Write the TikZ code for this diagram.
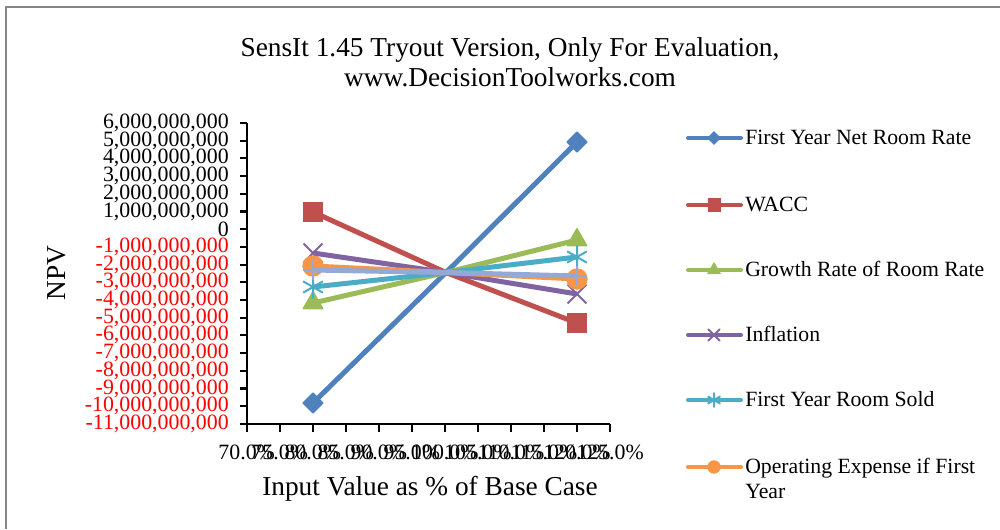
\documentclass[tikz,border=0pt]{standalone}
\usepackage{fontspec}
\setmainfont{Liberation Serif}
\usetikzlibrary{plotmarks}
\definecolor{srblue}{HTML}{4F81BD}
\definecolor{srred}{HTML}{C0504D}
\definecolor{srgreen}{HTML}{9BBB59}
\definecolor{srpurple}{HTML}{8064A2}
\definecolor{srteal}{HTML}{4BACC6}
\definecolor{srorange}{HTML}{F79646}
\definecolor{srlight}{HTML}{93A9D8}
\definecolor{frame}{HTML}{868686}
\definecolor{negred}{HTML}{FF0000}
\begin{document}
\begin{tikzpicture}[x=0.75pt, y=-0.75pt,
  series/.style={line width=3.75pt, line join=round},
  legline/.style={line width=3pt, line cap=round, every mark/.append style={scale=0.6}},
  ticklbl/.style={inner sep=0pt, font=\fontsize{16.4}{18}\selectfont},
  legtext/.style={inner sep=0pt, font=\fontsize{16.3}{18.75}\selectfont, align=left},
  bigtext/.style={inner sep=0pt, font=\fontsize{20.5}{22.5}\selectfont},
  netrate/.style={srblue, mark=square*, mark size=5.3pt,
    mark options={rotate=45, fill=srblue, draw=srblue, line width=1pt}},
  wacc/.style={srred, mark=square*, mark size=7.3pt,
    mark options={fill=srred, draw=srred, line width=1pt}},
  growth/.style={srgreen, mark=triangle*, mark size=8.5pt,
    mark options={fill=srgreen, draw=srgreen, line width=1pt}},
  inflation/.style={srpurple, mark=x, mark size=10pt,
    mark options={draw=srpurple, line width=1.5pt}},
  roomsold/.style={srteal, mark=asterisk, mark size=8.5pt,
    mark options={draw=srteal, line width=1.5pt}},
  opex/.style={srorange, mark=*, mark size=7.5pt,
    mark options={fill=srorange, draw=srorange, line width=1pt}},
  extra/.style={srlight, mark=+, mark size=7.5pt,
    mark options={draw=srlight, line width=1.5pt}},
]
\useasboundingbox (0,0) rectangle (1000,529);
% chart frame
\draw[frame, line width=1.5pt] (6,529) -- (6,7) -- (1000,7);

% titles
\node[bigtext, align=center] (title) at (510,62)
  {SensIt 1.45 Tryout Version, Only For Evaluation,\\www.DecisionToolworks.com};
\node[bigtext, rotate=90] (ytitle) at (57,273) {NPV};
\node[bigtext, anchor=base] (xtitle) at (430,495) {Input Value as \% of Base Case};

% value axis
\foreach \v in {6,5,...,-11}{
  \pgfmathsetmacro\yy{229.2-17.7*\v}
  \draw[line width=1.6pt] (240,\yy) -- (247,\yy);
  \ifnum\v<0
    \node[ticklbl, anchor=east, text=negred] (ylbl\v) at (229,\yy) {\v,000,000,000};
  \else\ifnum\v=0
    \node[ticklbl, anchor=east] (ylbl\v) at (229,\yy) {0};
  \else
    \node[ticklbl, anchor=east] (ylbl\v) at (229,\yy) {\v,000,000,000};
  \fi\fi
}
% category axis
\foreach \i [evaluate=\i as \xx using 246.7+33.03*\i,
             evaluate=\i as \pc using int(70+5*\i)] in {0,...,11}{
  \draw[line width=1.6pt] (\xx,424) -- (\xx,432);
  \node[ticklbl, anchor=base] (xlbl\i) at (\xx,459) {\pc.0\%};
}
\draw[line width=1.6pt] (247,123) -- (247,424) -- (610,424);

% data series
\draw[series, netrate] plot[mark indices={1,3}] coordinates {(313,403) (446,272.5) (577,142)};
\draw[series, wacc] plot[mark indices={1,3}] coordinates {(313,212) (446,272.5) (577,323)};
\draw[series, growth] plot[mark indices={1,3}] coordinates {(313,303) (446,272.5) (577,240)};
\draw[series, inflation] plot[mark indices={1,3}] coordinates {(313,253) (446,272.5) (577,294)};
\draw[series, roomsold] plot[mark indices={1,3}] coordinates {(313,287) (446,272.5) (577,257)};
\draw[series, opex] plot[mark indices={1,3}] coordinates {(313,266) (446,272.5) (577,279)};
\draw[series, extra] plot[mark indices={1,3}] coordinates {(313,270) (446,272.5) (577,276)};

% legend
\foreach \ly/\sty/\txt in {138/netrate/First Year Net Room Rate, 205/wacc/WACC,
    270/growth/Growth Rate of Room Rate, 335/inflation/Inflation,
    400/roomsold/First Year Room Sold}{
  \draw[\sty, legline] plot[mark indices={2}] coordinates {(688,\ly) (714,\ly) (741,\ly)};
  \node[legtext, anchor=base west] (leg\sty) at (745,\ly+6) {\txt};
}
\draw[opex, legline] plot[mark indices={2}] coordinates {(688,467) (714,467) (741,467)};
\node[legtext, anchor=north west] (legopex) at (745,458) {Operating Expense if First\\Year};
\end{tikzpicture}
\end{document}
